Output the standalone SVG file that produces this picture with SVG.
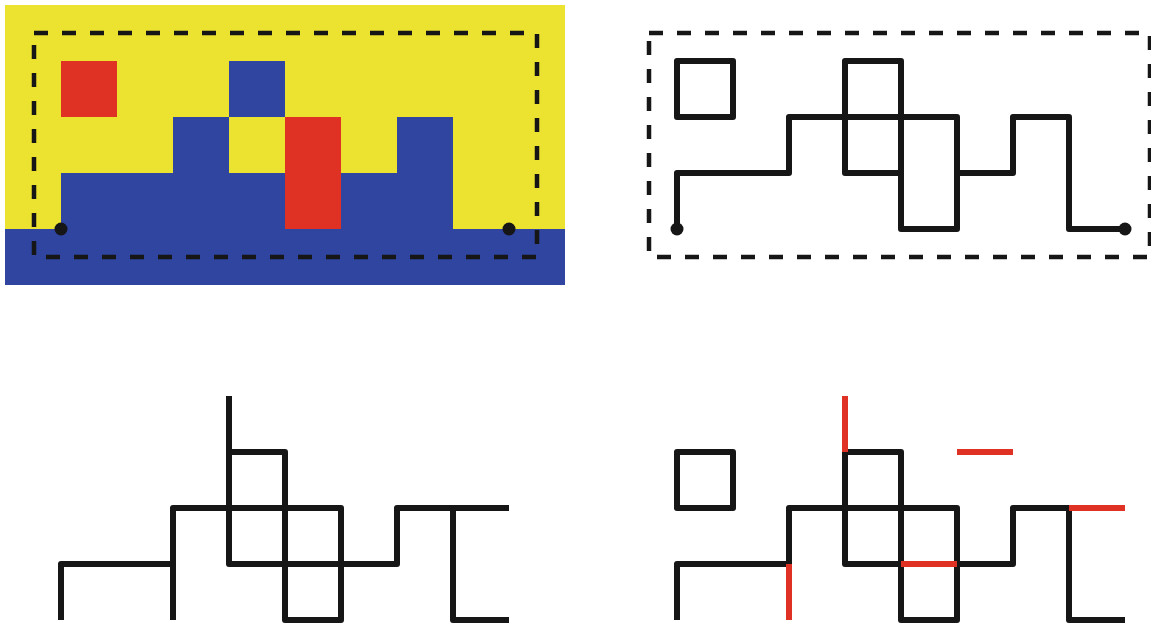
<svg xmlns="http://www.w3.org/2000/svg" width="1151" height="626" viewBox="0 0 1151 626">
<style>
.ln{fill:none;stroke:#161616;stroke-width:6;stroke-linejoin:round;stroke-linecap:butt}
.rd{fill:none;stroke:#DF3124;stroke-width:6;stroke-linecap:butt}
.dash{fill:none;stroke:#161616;stroke-width:4.5;stroke-dasharray:14 14}
.dot{fill:#161616}
</style>
<rect width="1151" height="626" fill="#ffffff"/>
<g id="colour-map">
<rect x="5" y="5" width="560" height="224" fill="#ECE230"/>
<rect x="5" y="229" width="560" height="56" fill="#2F45A0"/>
<path d="M61,229 V173 H173 V117 H229 V173 H285 V229 Z" fill="#2F45A0"/>
<path d="M341,229 V173 H397 V117 H453 V229 Z" fill="#2F45A0"/>
<rect x="229" y="61" width="56" height="56" fill="#2F45A0"/>
<rect x="61" y="61" width="56" height="56" fill="#DF3124"/>
<rect x="285" y="117" width="56" height="112" fill="#DF3124"/>
<rect class="dash" x="34" y="33" width="503" height="224"/>
<circle class="dot" cx="61" cy="229" r="6.5"/>
<circle class="dot" cx="509" cy="229" r="6.5"/>
</g>
<g id="boundary">
<rect class="dash" x="649" y="33" width="501" height="224"/>
<path class="ln" d="M677,61 H733 V117 H677 Z"/>
<path class="ln" d="M677,229 V173 H789 V117 H957 V229 H901 V61 H845 V173 H901"/>
<path class="ln" d="M957,173 H1013 V117 H1069 V229 H1125"/>
<circle class="dot" cx="677" cy="229" r="6.5"/>
<circle class="dot" cx="1125" cy="229" r="6.5"/>
</g>
<g id="partial">
<path class="ln" d="M61,620 V564 H173"/>
<path class="ln" d="M173,620 V508 H341 V620 H285 V452 H229"/>
<path class="ln" d="M229,396 V564 H397 V508 H509"/>
<path class="ln" d="M453,508 V620 H509"/>
</g>
<g id="differences">
<path class="ln" d="M677,452 H733 V508 H677 Z"/>
<path class="ln" d="M677,620 V564 H789 V508 H957 V620 H901 V452 H845 V564 H901"/>
<path class="ln" d="M957,564 H1013 V508 H1069 V620 H1125"/>
<path class="rd" d="M789,564 V620 M845,396 V452 M957,452 H1013 M1069,508 H1125 M901,564 H957"/>
</g>
</svg>
